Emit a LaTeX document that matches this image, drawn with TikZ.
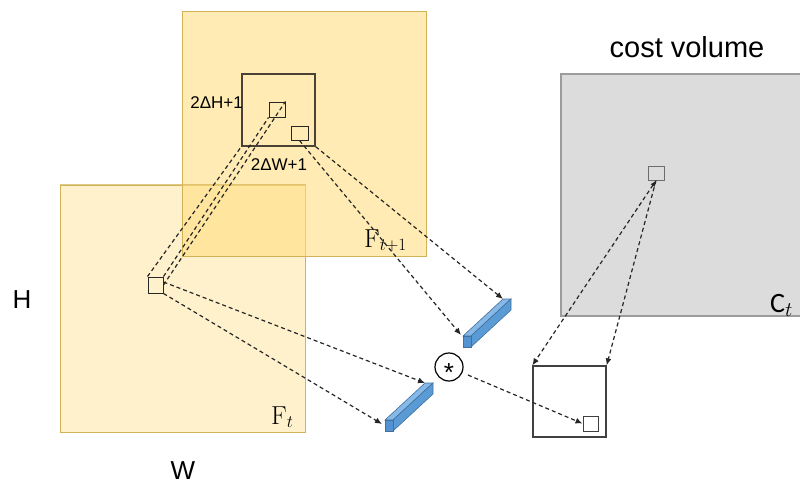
\documentclass[tikz,border=0pt]{standalone}
\usepackage{fontspec}
\setsansfont{Liberation Sans}
\newfontfamily\calib{Carlito}
\usetikzlibrary{arrows.meta,calc}

\definecolor{gold}{HTML}{FFDD80}
\definecolor{goldline}{HTML}{D2B257}
\definecolor{cvfill}{HTML}{DCDCDC}
\definecolor{cvline}{HTML}{9C9C9C}
\definecolor{beamtop}{HTML}{86B8E8}
\definecolor{beamside}{HTML}{5B9BD5}
\definecolor{beamend}{HTML}{5393D2}
\definecolor{beamedge}{HTML}{41719C}
\definecolor{winline}{HTML}{4A4236}

\tikzset{
  fmap/.style={draw=goldline, line width=1pt, fill=gold, inner sep=0pt},
  cellbox/.style={draw=#1, line width=1pt, fill=none, inner sep=0pt, minimum width=15pt, minimum height=15pt},
  link/.style={dashed, dash pattern=on 4pt off 3pt, line width=1.2pt, draw=black!85},
  arr/.style={link, -{Latex[length=7pt,width=6pt]}},
  lbl/.style={font=\sffamily\fontsize{#1}{#1}\selectfont, inner sep=0pt},
}

% a blue beam: start corner, long axis, horizontal and vertical thickness
\newcommand\drawbeam[5]{%
  \coordinate (#1) at #2;
  \coordinate (#1e) at ($(#1)+#3$);
  \filldraw[fill=beamtop, draw=beamedge, line width=0.6pt]
    (#1) -- (#1e) -- ($(#1e)+#4$) -- ($(#1)+#4$) -- cycle;
  \filldraw[fill=beamside, draw=beamedge, line width=0.6pt]
    ($(#1)+#4$) -- ($(#1e)+#4$) -- ($(#1e)+#4+#5$) -- ($(#1)+#4+#5$) -- cycle;
  \filldraw[fill=beamend, draw=beamedge, line width=0.6pt]
    (#1) -- ($(#1)+#4$) -- ($(#1)+#4+#5$) -- ($(#1)+#5$) -- cycle;
}

\begin{document}
\begin{tikzpicture}[x=1pt, y=-1pt]
\useasboundingbox (0,0) rectangle (800,487);

% feature maps
\node[fmap, fill opacity=0.4, minimum width=245pt, minimum height=247pt] (ft) at (182.5,308.5) {};
\node[fmap, fill opacity=0.6, minimum width=244pt, minimum height=244pt] (ft1) at (304,134) {};
\draw[goldline, line width=1pt, opacity=0.7] (ft.north west) -- (ft.north east);

% cost volume
\node[draw=cvline, line width=1.2pt, fill=cvfill, inner sep=0pt, minimum width=243pt, minimum height=242pt] (cv) at (682.5,195) {};

% search window and cells
\node[draw=winline, line width=1.5pt, inner sep=0pt, minimum width=73pt, minimum height=72pt] (win) at (278.5,110) {};
\node[cellbox=black!85, minimum width=16pt, minimum height=15pt] (q1) at (277,109.5) {};
\node[cellbox=black!85, minimum width=17pt, minimum height=14pt] (q2) at (299.5,133) {};
\node[cellbox=black!85, minimum width=15pt, minimum height=16pt] (p) at (155.5,285) {};
\node[cellbox=cvline!70!black, minimum width=16pt, minimum height=14pt] (c1) at (656,173) {};
\node[draw=black!75, line width=1.3pt, inner sep=0pt, minimum width=73pt, minimum height=71pt] (res) at (569.5,401.5) {};
\node[cellbox=black!75] (r1) at (590.5,423.5) {};

% correlation operator
\node[draw=black, line width=1.2pt, circle, minimum size=28pt, inner sep=0pt] (conv) at (449,367) {};
\node[font=\sffamily\fontsize{26}{26}\selectfont, inner sep=0pt] (star) at (449,373) {*};

% feature beams
\drawbeam{ub}{(463,336)}{(40,-37)}{(8,0)}{(0,11)}
\drawbeam{lb}{(385,420)}{(40,-37)}{(8,0)}{(0,11)}
\coordinate (lbtip) at ($(lb)+(-3,4)$);

% labels
\node[lbl=26, anchor=center] (hl) at (22,300) {H};
\node[lbl=26, anchor=center] (wl) at (183,471) {W};
\node[lbl=29, anchor=center] (cvl) at (687,47) {cost volume};
\node[lbl=17, anchor=east] (dh) at (243,103) {2ΔH+1};
\node[lbl=17, anchor=center] (dw) at (279,165) {2ΔW+1};
\node[inner sep=0pt, anchor=base west, font=\fontsize{26}{26}\selectfont] (ftl) at (271,424) {$\mathrm{F}_t$};
\node[inner sep=0pt, anchor=base west, font=\fontsize{26}{26}\selectfont] (ft1l) at (364,247) {$\mathrm{F}_{t+1}$};
\node[inner sep=0pt, anchor=base west, font=\fontsize{28}{28}\selectfont] (ctl) at (770,312) {{\calib C}$_t$};

% correspondence lines
\draw[link] (p.north west) -- (win.south west);
\draw[link] (p.north east) -- (q1.south west);
\draw[link] (p.east) -- (q1.north east);
\draw[arr] (q2.south) -- ([xshift=-2pt,yshift=1pt]ub);
\draw[arr] (win.south east) -- (ube);
\draw[arr] ([yshift=3pt]p.east) -- (lbe);
\draw[arr] (p.south east) -- (lbtip);
\draw[arr, shorten <=6pt] (conv) -- (r1.west);
\draw[link, {Latex[length=6pt,width=5pt]}-{Latex[length=7pt,width=6pt]}] (c1.south) -- (res.north west);
\draw[arr] (c1.south) -- (res.north east);
\end{tikzpicture}
\end{document}
